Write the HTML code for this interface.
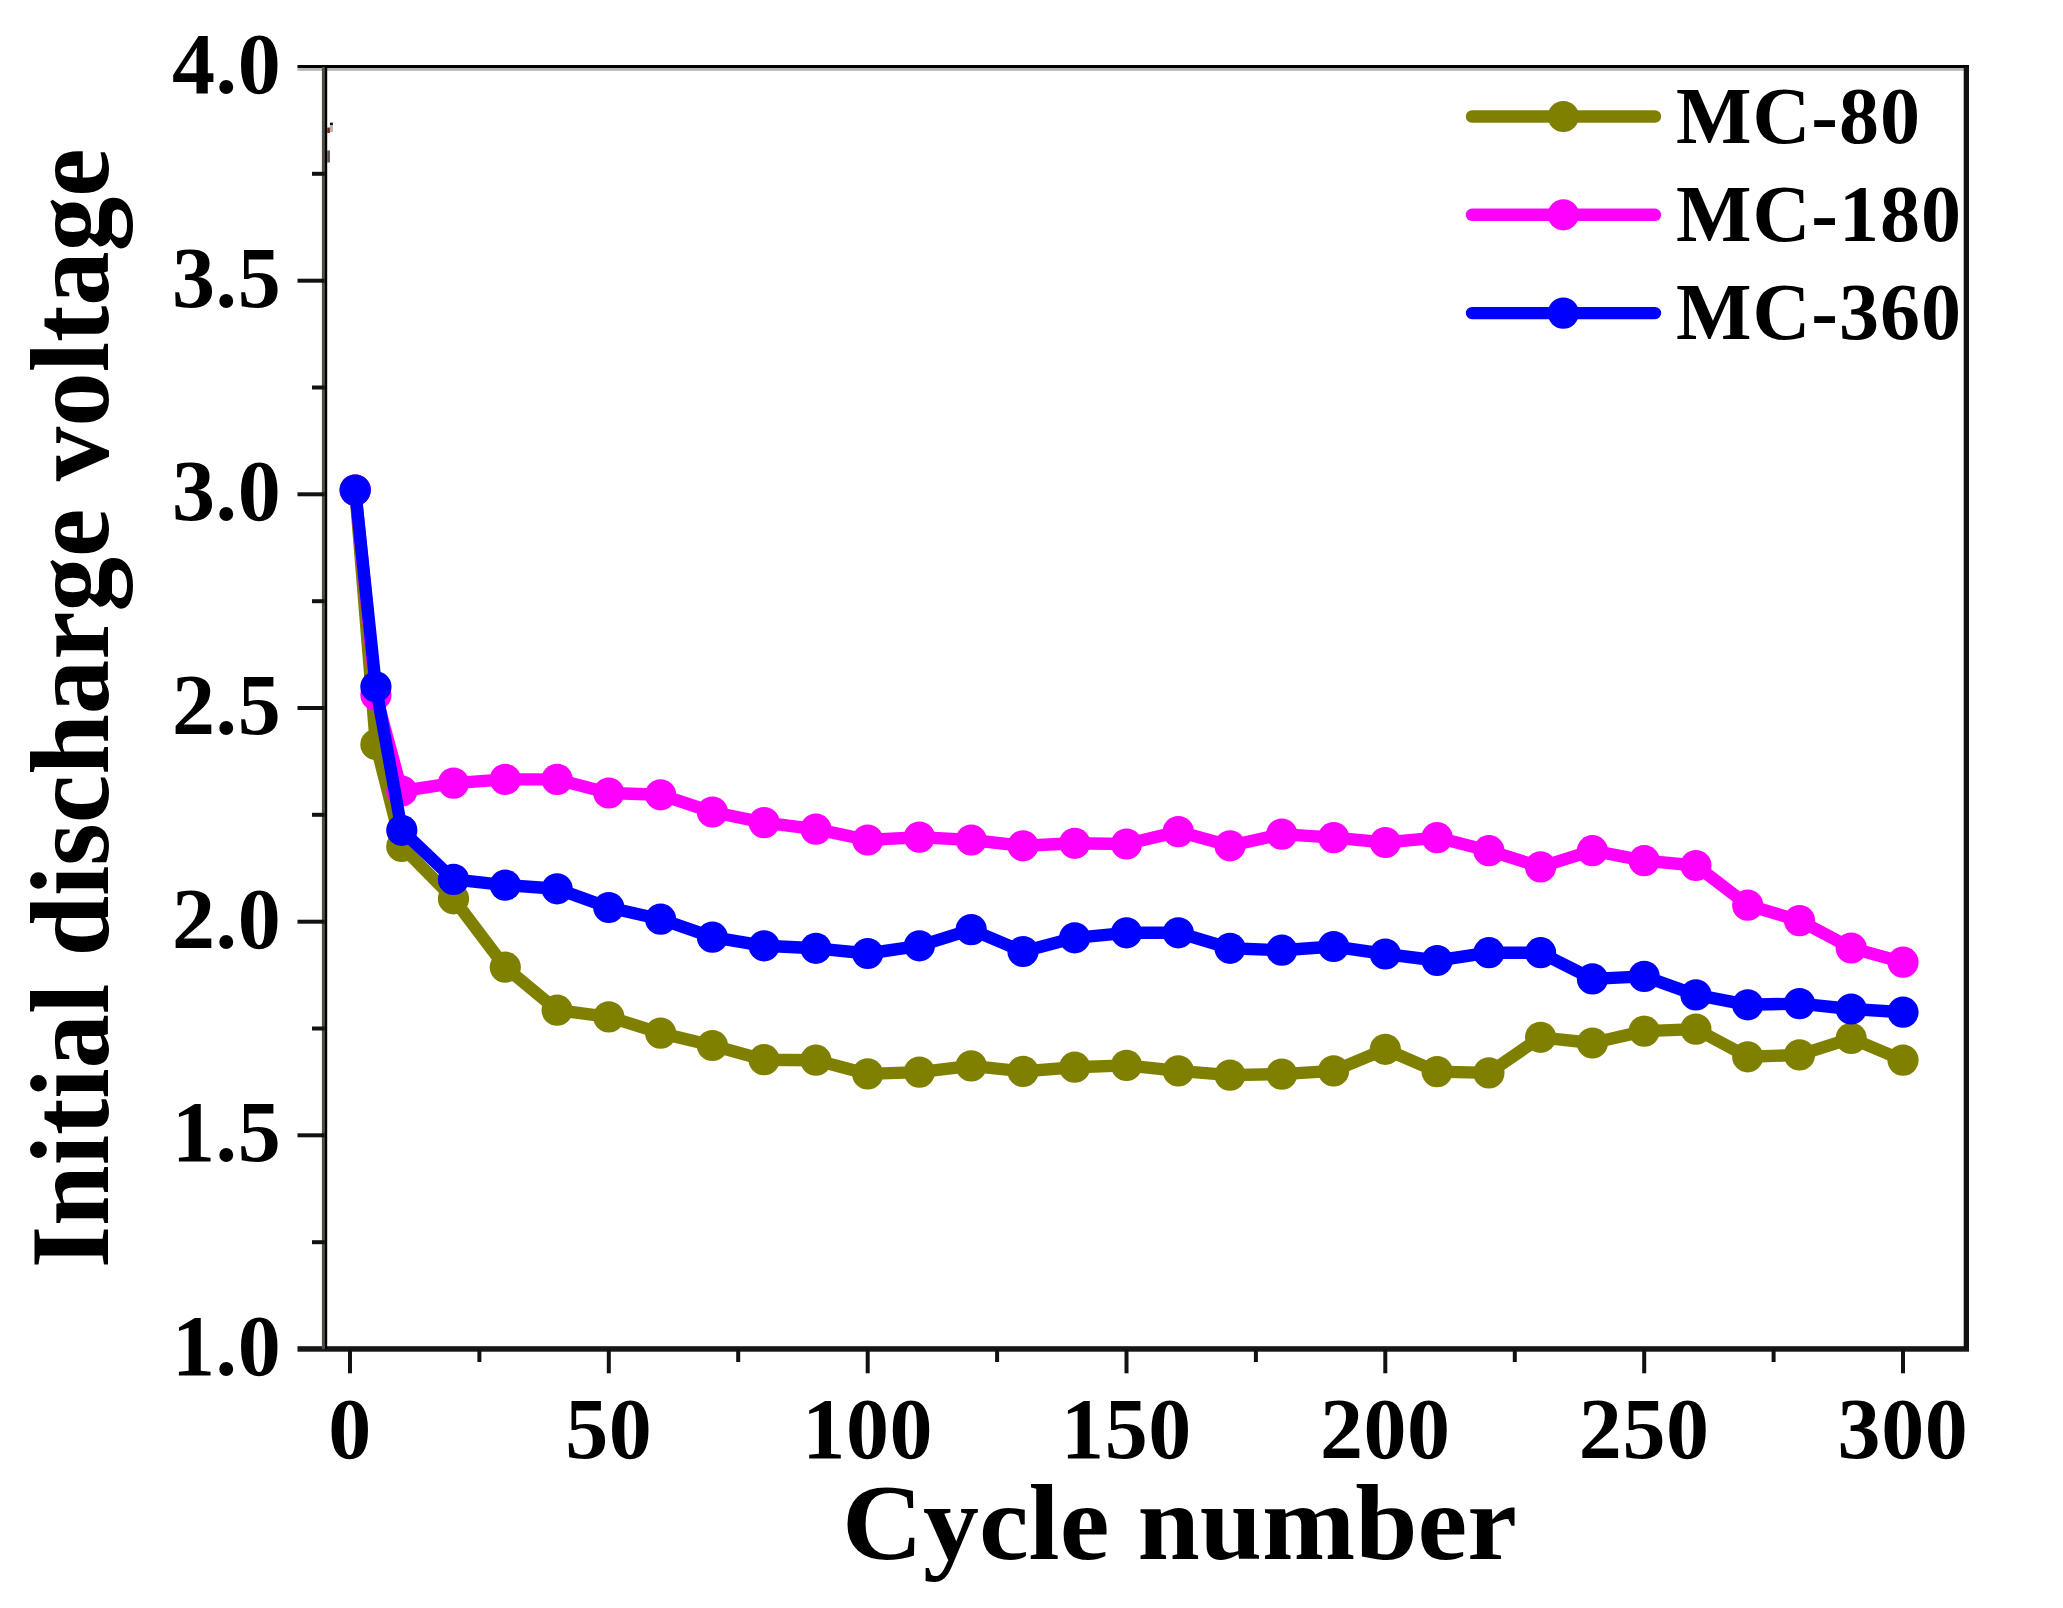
<!DOCTYPE html>
<html lang="en"><head><meta charset="utf-8"><title>Initial discharge voltage vs cycle number</title>
<style>
html,body{margin:0;padding:0;background:#fff;}
body{width:2063px;height:1608px;overflow:hidden;}
svg{display:block;}
</style></head><body>
<svg width="2063" height="1608" viewBox="0 0 2063 1608">
<rect width="2063" height="1608" fill="#fff"/>
<polyline points="355.2,490.1 375.9,744.5 401.8,846.5 453.5,898.8 505.3,967.2 557.1,1010.2 608.8,1016.9 660.6,1033.1 712.4,1045.5 764.1,1059.7 815.9,1060.2 867.7,1073.9 919.4,1072.1 971.2,1065.9 1023.0,1071.4 1074.7,1067.2 1126.5,1065.4 1178.3,1070.9 1230.0,1075.1 1281.8,1074.1 1333.6,1070.9 1385.3,1049.3 1437.1,1071.6 1488.9,1072.9 1540.6,1037.3 1592.4,1043.0 1644.2,1031.1 1695.9,1029.1 1747.7,1056.8 1799.5,1054.9 1851.2,1038.4 1903.0,1060.1" fill="none" stroke="#808000" stroke-width="12.4" stroke-linejoin="round" stroke-linecap="round"/>
<circle cx="355.2" cy="490.1" r="15.6" fill="#808000"/><circle cx="375.9" cy="744.5" r="15.6" fill="#808000"/><circle cx="401.8" cy="846.5" r="15.6" fill="#808000"/><circle cx="453.5" cy="898.8" r="15.6" fill="#808000"/><circle cx="505.3" cy="967.2" r="15.6" fill="#808000"/><circle cx="557.1" cy="1010.2" r="15.6" fill="#808000"/><circle cx="608.8" cy="1016.9" r="15.6" fill="#808000"/><circle cx="660.6" cy="1033.1" r="15.6" fill="#808000"/><circle cx="712.4" cy="1045.5" r="15.6" fill="#808000"/><circle cx="764.1" cy="1059.7" r="15.6" fill="#808000"/><circle cx="815.9" cy="1060.2" r="15.6" fill="#808000"/><circle cx="867.7" cy="1073.9" r="15.6" fill="#808000"/><circle cx="919.4" cy="1072.1" r="15.6" fill="#808000"/><circle cx="971.2" cy="1065.9" r="15.6" fill="#808000"/><circle cx="1023.0" cy="1071.4" r="15.6" fill="#808000"/><circle cx="1074.7" cy="1067.2" r="15.6" fill="#808000"/><circle cx="1126.5" cy="1065.4" r="15.6" fill="#808000"/><circle cx="1178.3" cy="1070.9" r="15.6" fill="#808000"/><circle cx="1230.0" cy="1075.1" r="15.6" fill="#808000"/><circle cx="1281.8" cy="1074.1" r="15.6" fill="#808000"/><circle cx="1333.6" cy="1070.9" r="15.6" fill="#808000"/><circle cx="1385.3" cy="1049.3" r="15.6" fill="#808000"/><circle cx="1437.1" cy="1071.6" r="15.6" fill="#808000"/><circle cx="1488.9" cy="1072.9" r="15.6" fill="#808000"/><circle cx="1540.6" cy="1037.3" r="15.6" fill="#808000"/><circle cx="1592.4" cy="1043.0" r="15.6" fill="#808000"/><circle cx="1644.2" cy="1031.1" r="15.6" fill="#808000"/><circle cx="1695.9" cy="1029.1" r="15.6" fill="#808000"/><circle cx="1747.7" cy="1056.8" r="15.6" fill="#808000"/><circle cx="1799.5" cy="1054.9" r="15.6" fill="#808000"/><circle cx="1851.2" cy="1038.4" r="15.6" fill="#808000"/><circle cx="1903.0" cy="1060.1" r="15.6" fill="#808000"/>

<polyline points="355.2,490.1 375.9,695.0 401.8,791.0 453.5,783.1 505.3,779.4 557.1,779.4 608.8,793.0 660.6,794.8 712.4,812.0 764.1,822.6 815.9,829.1 867.7,840.0 919.4,837.1 971.2,840.0 1023.0,845.8 1074.7,843.3 1126.5,844.0 1178.3,831.6 1230.0,845.8 1281.8,834.1 1333.6,837.6 1385.3,842.5 1437.1,837.6 1488.9,850.7 1540.6,866.9 1592.4,850.7 1644.2,860.7 1695.9,865.5 1747.7,905.2 1799.5,920.6 1851.2,948.0 1903.0,962.2" fill="none" stroke="#ff00ff" stroke-width="12.4" stroke-linejoin="round" stroke-linecap="round"/>
<circle cx="355.2" cy="490.1" r="15.6" fill="#ff00ff"/><circle cx="375.9" cy="695.0" r="15.6" fill="#ff00ff"/><circle cx="401.8" cy="791.0" r="15.6" fill="#ff00ff"/><circle cx="453.5" cy="783.1" r="15.6" fill="#ff00ff"/><circle cx="505.3" cy="779.4" r="15.6" fill="#ff00ff"/><circle cx="557.1" cy="779.4" r="15.6" fill="#ff00ff"/><circle cx="608.8" cy="793.0" r="15.6" fill="#ff00ff"/><circle cx="660.6" cy="794.8" r="15.6" fill="#ff00ff"/><circle cx="712.4" cy="812.0" r="15.6" fill="#ff00ff"/><circle cx="764.1" cy="822.6" r="15.6" fill="#ff00ff"/><circle cx="815.9" cy="829.1" r="15.6" fill="#ff00ff"/><circle cx="867.7" cy="840.0" r="15.6" fill="#ff00ff"/><circle cx="919.4" cy="837.1" r="15.6" fill="#ff00ff"/><circle cx="971.2" cy="840.0" r="15.6" fill="#ff00ff"/><circle cx="1023.0" cy="845.8" r="15.6" fill="#ff00ff"/><circle cx="1074.7" cy="843.3" r="15.6" fill="#ff00ff"/><circle cx="1126.5" cy="844.0" r="15.6" fill="#ff00ff"/><circle cx="1178.3" cy="831.6" r="15.6" fill="#ff00ff"/><circle cx="1230.0" cy="845.8" r="15.6" fill="#ff00ff"/><circle cx="1281.8" cy="834.1" r="15.6" fill="#ff00ff"/><circle cx="1333.6" cy="837.6" r="15.6" fill="#ff00ff"/><circle cx="1385.3" cy="842.5" r="15.6" fill="#ff00ff"/><circle cx="1437.1" cy="837.6" r="15.6" fill="#ff00ff"/><circle cx="1488.9" cy="850.7" r="15.6" fill="#ff00ff"/><circle cx="1540.6" cy="866.9" r="15.6" fill="#ff00ff"/><circle cx="1592.4" cy="850.7" r="15.6" fill="#ff00ff"/><circle cx="1644.2" cy="860.7" r="15.6" fill="#ff00ff"/><circle cx="1695.9" cy="865.5" r="15.6" fill="#ff00ff"/><circle cx="1747.7" cy="905.2" r="15.6" fill="#ff00ff"/><circle cx="1799.5" cy="920.6" r="15.6" fill="#ff00ff"/><circle cx="1851.2" cy="948.0" r="15.6" fill="#ff00ff"/><circle cx="1903.0" cy="962.2" r="15.6" fill="#ff00ff"/>

<polyline points="355.2,490.1 375.9,686.8 401.8,830.3 453.5,879.4 505.3,885.1 557.1,888.8 608.8,907.5 660.6,919.2 712.4,937.2 764.1,945.8 815.9,948.3 867.7,953.5 919.4,945.8 971.2,929.6 1023.0,951.5 1074.7,937.8 1126.5,932.8 1178.3,932.8 1230.0,948.3 1281.8,950.2 1333.6,946.5 1385.3,954.0 1437.1,960.5 1488.9,952.7 1540.6,952.7 1592.4,978.9 1644.2,976.4 1695.9,994.9 1747.7,1004.8 1799.5,1003.6 1851.2,1009.0 1903.0,1012.2" fill="none" stroke="#0000ff" stroke-width="12.4" stroke-linejoin="round" stroke-linecap="round"/>
<circle cx="355.2" cy="490.1" r="15.6" fill="#0000ff"/><circle cx="375.9" cy="686.8" r="15.6" fill="#0000ff"/><circle cx="401.8" cy="830.3" r="15.6" fill="#0000ff"/><circle cx="453.5" cy="879.4" r="15.6" fill="#0000ff"/><circle cx="505.3" cy="885.1" r="15.6" fill="#0000ff"/><circle cx="557.1" cy="888.8" r="15.6" fill="#0000ff"/><circle cx="608.8" cy="907.5" r="15.6" fill="#0000ff"/><circle cx="660.6" cy="919.2" r="15.6" fill="#0000ff"/><circle cx="712.4" cy="937.2" r="15.6" fill="#0000ff"/><circle cx="764.1" cy="945.8" r="15.6" fill="#0000ff"/><circle cx="815.9" cy="948.3" r="15.6" fill="#0000ff"/><circle cx="867.7" cy="953.5" r="15.6" fill="#0000ff"/><circle cx="919.4" cy="945.8" r="15.6" fill="#0000ff"/><circle cx="971.2" cy="929.6" r="15.6" fill="#0000ff"/><circle cx="1023.0" cy="951.5" r="15.6" fill="#0000ff"/><circle cx="1074.7" cy="937.8" r="15.6" fill="#0000ff"/><circle cx="1126.5" cy="932.8" r="15.6" fill="#0000ff"/><circle cx="1178.3" cy="932.8" r="15.6" fill="#0000ff"/><circle cx="1230.0" cy="948.3" r="15.6" fill="#0000ff"/><circle cx="1281.8" cy="950.2" r="15.6" fill="#0000ff"/><circle cx="1333.6" cy="946.5" r="15.6" fill="#0000ff"/><circle cx="1385.3" cy="954.0" r="15.6" fill="#0000ff"/><circle cx="1437.1" cy="960.5" r="15.6" fill="#0000ff"/><circle cx="1488.9" cy="952.7" r="15.6" fill="#0000ff"/><circle cx="1540.6" cy="952.7" r="15.6" fill="#0000ff"/><circle cx="1592.4" cy="978.9" r="15.6" fill="#0000ff"/><circle cx="1644.2" cy="976.4" r="15.6" fill="#0000ff"/><circle cx="1695.9" cy="994.9" r="15.6" fill="#0000ff"/><circle cx="1747.7" cy="1004.8" r="15.6" fill="#0000ff"/><circle cx="1799.5" cy="1003.6" r="15.6" fill="#0000ff"/><circle cx="1851.2" cy="1009.0" r="15.6" fill="#0000ff"/><circle cx="1903.0" cy="1012.2" r="15.6" fill="#0000ff"/>

<g stroke="#111" stroke-width="5.3" fill="none" stroke-linecap="butt">
<rect x="297.5" y="65" width="1671.5" height="3.2" fill="#000" stroke="none"/>
<rect x="297.5" y="68.2" width="1671.5" height="2.6" fill="#b0b8b2" stroke="none"/>
<rect x="297.5" y="1346.2" width="1671.5" height="5.5" fill="#15151a" stroke="none"/>
<rect x="321.9" y="67" width="3.1" height="1282" fill="#4e4e44" stroke="none"/>
<rect x="324.9" y="67" width="2.3" height="1282" fill="#000" stroke="none"/>
<rect x="327.2" y="127.5" width="2.7" height="5.5" fill="#6a2a10" stroke="none"/><rect x="329.9" y="122.6" width="3" height="2.4" fill="#111" stroke="none"/><rect x="329.9" y="125" width="3" height="7" fill="#b4b4a6" stroke="none"/><rect x="327.2" y="150.5" width="2.7" height="12" fill="#56504e" stroke="none"/>
<line x1="1966.35" y1="67.0" x2="1966.35" y2="1349.0"/>
</g>
<g stroke="#111" stroke-width="4" fill="none">
<line x1="312" y1="173.8" x2="324.6" y2="173.8"/>
<line x1="297.5" y1="280.7" x2="324.6" y2="280.7"/>
<line x1="312" y1="387.5" x2="324.6" y2="387.5"/>
<line x1="297.5" y1="494.3" x2="324.6" y2="494.3"/>
<line x1="312" y1="601.2" x2="324.6" y2="601.2"/>
<line x1="297.5" y1="708.0" x2="324.6" y2="708.0"/>
<line x1="312" y1="814.8" x2="324.6" y2="814.8"/>
<line x1="297.5" y1="921.7" x2="324.6" y2="921.7"/>
<line x1="312" y1="1028.5" x2="324.6" y2="1028.5"/>
<line x1="297.5" y1="1135.3" x2="324.6" y2="1135.3"/>
<line x1="312" y1="1242.2" x2="324.6" y2="1242.2"/>
<line x1="350.0" y1="1349.0" x2="350.0" y2="1373.3"/>
<line x1="479.4" y1="1349.0" x2="479.4" y2="1362"/>
<line x1="608.8" y1="1349.0" x2="608.8" y2="1373.3"/>
<line x1="738.2" y1="1349.0" x2="738.2" y2="1362"/>
<line x1="867.7" y1="1349.0" x2="867.7" y2="1373.3"/>
<line x1="997.1" y1="1349.0" x2="997.1" y2="1362"/>
<line x1="1126.5" y1="1349.0" x2="1126.5" y2="1373.3"/>
<line x1="1255.9" y1="1349.0" x2="1255.9" y2="1362"/>
<line x1="1385.3" y1="1349.0" x2="1385.3" y2="1373.3"/>
<line x1="1514.8" y1="1349.0" x2="1514.8" y2="1362"/>
<line x1="1644.2" y1="1349.0" x2="1644.2" y2="1373.3"/>
<line x1="1773.6" y1="1349.0" x2="1773.6" y2="1362"/>
<line x1="1903.0" y1="1349.0" x2="1903.0" y2="1373.3"/>
</g>
<g font-family="'Liberation Serif', serif" font-weight="bold" fill="#000">
<g font-size="86" text-anchor="end" letter-spacing="0.7">
<text x="281.5" y="93.0">4.0</text>
<text x="281.5" y="306.7">3.5</text>
<text x="281.5" y="520.3">3.0</text>
<text x="281.5" y="734.0">2.5</text>
<text x="281.5" y="947.7">2.0</text>
<text x="281.5" y="1161.3">1.5</text>
<text x="281.5" y="1375.0">1.0</text>
</g>
<g font-size="86" text-anchor="middle" letter-spacing="0.6">
<text x="350.0" y="1458">0</text>
<text x="608.8" y="1458">50</text>
<text x="867.7" y="1458">100</text>
<text x="1126.5" y="1458">150</text>
<text x="1385.3" y="1458">200</text>
<text x="1644.2" y="1458">250</text>
<text x="1903.0" y="1458">300</text>
</g>
<text transform="translate(1179.5,1558.6) scale(1,0.972)" font-size="112" text-anchor="middle">Cycle number</text>
<text transform="translate(108,708.4) rotate(-90) scale(0.973,1)" font-size="112" text-anchor="middle">Initial discharge voltage</text>
<line x1="1472" y1="116.5" x2="1655" y2="116.5" stroke="#808000" stroke-width="12.4" stroke-linecap="round"/>
<circle cx="1563.3" cy="116.5" r="15.6" fill="#808000"/>
<text x="1676" y="142.5" font-size="80" letter-spacing="1">MC-80</text>
<line x1="1472" y1="214.8" x2="1655" y2="214.8" stroke="#ff00ff" stroke-width="12.4" stroke-linecap="round"/>
<circle cx="1563.3" cy="214.8" r="15.6" fill="#ff00ff"/>
<text x="1676" y="240.8" font-size="80" letter-spacing="1">MC-180</text>
<line x1="1472" y1="313.1" x2="1655" y2="313.1" stroke="#0000ff" stroke-width="12.4" stroke-linecap="round"/>
<circle cx="1563.3" cy="313.1" r="15.6" fill="#0000ff"/>
<text x="1676" y="339.1" font-size="80" letter-spacing="1">MC-360</text>
</g>
</svg>
</body></html>
